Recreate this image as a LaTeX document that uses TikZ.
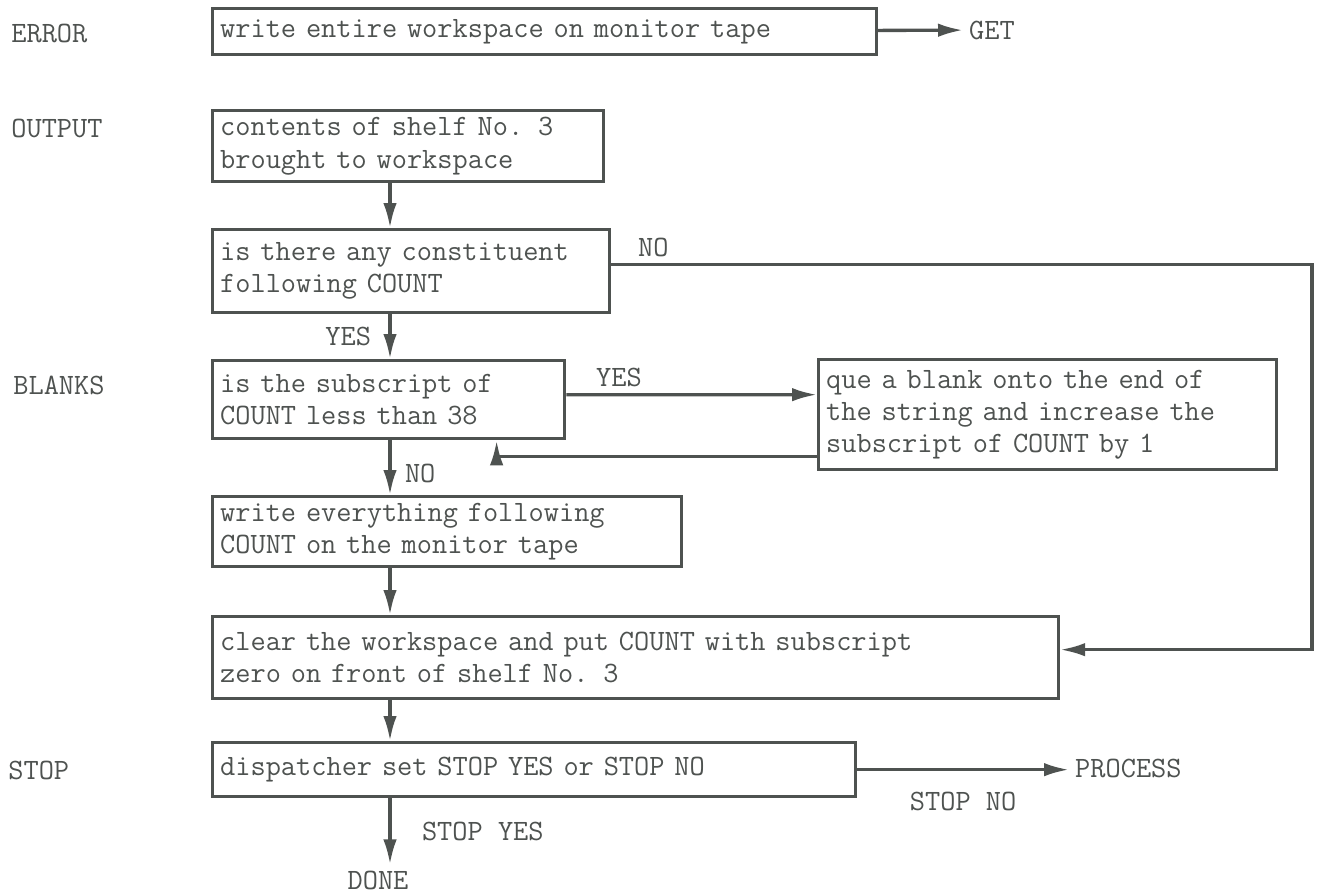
\documentclass[tikz,border=0pt]{standalone}
\usepackage{fontspec}
\usetikzlibrary{arrows.meta,positioning,calc}
\definecolor{ink}{RGB}{78,82,80}
\tikzset{
  box/.style={
    draw=ink,
    line width=1.9pt,
    anchor=north west,
    align=left,
    inner xsep=0.15cm,
    inner ysep=0pt,
    text=ink,
    font=\ttfamily\addfontfeatures{FakeBold=1.2}\fontsize{16.8}{18.4}\selectfont
  },
  sidename/.style={
    anchor=west,
    inner sep=0pt,
    text=ink,
    font=\ttfamily\addfontfeatures{FakeBold=1.2}\fontsize{16.8}{18.4}\selectfont
  },
  edgetxt/.style={
    text=ink,
    font=\ttfamily\addfontfeatures{FakeBold=1.2}\fontsize{16.8}{18.4}\selectfont
  },
  arr/.style={-{Latex[length=5mm,width=2.7mm]},line width=1.9pt,draw=ink}
}

\begin{document}
\begin{tikzpicture}[x=0.02cm, y=-0.02cm]
  \useasboundingbox (0,0) rectangle (1325,894);
  % names on the left
  \node[sidename] (nerror) at (11,33) {ERROR};
  \node[sidename] (noutput) at (11,128) {OUTPUT};
  \node[sidename] (nblanks) at (13,385) {BLANKS};
  \node[sidename] (nstop) at (8,770) {STOP};

  % boxes
  \node[box, text width=12.98cm, minimum height=0.92cm] (err) at (211,7)
    {write entire workspace on monitor tape};
  \node[box, text width=7.52cm, minimum height=1.42cm] (out) at (211,109)
    {contents of shelf No. 3\\brought to workspace};
  \node[box, text width=7.64cm, minimum height=1.66cm] (cons) at (211,228)
    {is there any constituent\\following COUNT};
  \node[box, text width=6.74cm, minimum height=1.56cm] (sub) at (211,359)
    {is the subscript of\\COUNT less than 38};
  \node[box, text width=8.86cm, minimum height=2.2cm] (que) at (817,358)
    {que a blank onto the end of\\the string and increase the\\subscript of COUNT by 1};
  \node[box, text width=9.08cm, minimum height=1.4cm] (wr) at (211,495)
    {write everything following\\COUNT on the monitor tape};
  \node[box, text width=16.62cm, minimum height=1.64cm] (clr) at (211,615)
    {clear the workspace and put COUNT with subscript\\zero on front of shelf No. 3};
  \node[box, text width=12.56cm, minimum height=1.08cm] (stp) at (211,741)
    {dispatcher set STOP YES or STOP NO};

  % exits
  \node[edgetxt, anchor=west] (get) at (963,30) {GET};
  \node[edgetxt, anchor=west] (process) at (1069,768) {PROCESS};
  \node[edgetxt] (done) at (378,880) {DONE};

  \coordinate (spine) at (390,0);
  \coordinate (rail) at (1312,450);

  % connectors
  \draw[arr] (err) -- (get);
  \draw[arr] (out.south -| spine) -- (cons.north -| spine);
  \draw[arr] (cons.south -| spine) -- node[edgetxt, left, xshift=-0.23cm] (yes1) {YES} (sub.north -| spine);
  \draw[arr] ([yshift=0.13cm]cons.east) -| node[edgetxt, above, pos=0.03] (no1) {NO} (rail)
    |- ([yshift=0.16cm]clr.east);
  \draw[arr] ([yshift=0.1cm]sub.east) -- node[edgetxt, above, pos=0.21] (yes2) {YES} ([yshift=0.4cm]que.west);
  \draw[arr] ([yshift=-0.84cm]que.west) -| ([xshift=2.16cm]sub.south);
  \draw[arr] (sub.south -| spine) -- node[edgetxt, right, xshift=0.15cm, yshift=-0.12cm] (no2) {NO} (wr.north -| spine);
  \draw[arr] (wr.south -| spine) -- (clr.north -| spine);
  \draw[arr] (clr.south -| spine) -- (stp.north -| spine);
  \draw[arr] (stp.east) -- node[edgetxt, below, yshift=-0.3cm] (stopno) {STOP NO} (stp.east -| process.west);
  \draw[arr] (stp.south -| spine) -- node[edgetxt, right, xshift=0.49cm] (stopyes) {STOP YES} (done.north -| spine);
\end{tikzpicture}
\end{document}
